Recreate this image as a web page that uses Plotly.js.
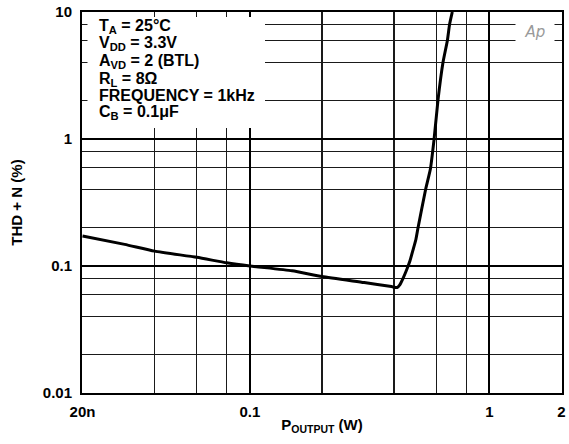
<!DOCTYPE html>
<html>
<head>
<meta charset="utf-8">
<script src="https://cdn.plot.ly/plotly-3.0.1.min.js"></script>
<style>
  html, body { margin: 0; padding: 0; background: #fff; }
  #chart { width: 569px; height: 444px; }
</style>
</head>
<body>
<div id="chart"></div>
<script>
// Output power (W) and THD+N (%) along the measured curve
const outputPower = [0.02, 0.03, 0.04, 0.06, 0.08, 0.1, 0.15, 0.2, 0.3, 0.39, 0.412, 0.4225,
                     0.436, 0.451, 0.466, 0.48, 0.493, 0.504, 0.541, 0.567, 0.587, 0.61,
                     0.64, 0.668, 0.682, 0.70];
const thdN = [0.172, 0.148, 0.131, 0.117, 0.106, 0.100, 0.0916, 0.0826, 0.0741, 0.0689, 0.0677, 0.071,
              0.080, 0.093, 0.110, 0.134, 0.161, 0.202, 0.397, 0.58, 0.98, 2.02,
              4.0, 6.0, 8.0, 10.0];

// Axis ticks: labelled decades and unlabelled grid positions
const xTickVals = [0.02, 0.1, 1, 2];
const xTickText = ['20n', '0.1', '1', '2'];
const xGridVals = [0.04, 0.06, 0.08, 0.2, 0.4, 0.6, 0.8];
const yTickVals = [0.01, 0.1, 1, 10];
const yTickText = ['0.01', '0.1', '1', '10'];
const yGridVals = [0.02, 0.04, 0.06, 0.08, 0.2, 0.4, 0.6, 0.8, 2, 4, 6, 8];

// Test conditions listed in the upper-left corner
const conditions = [
  'T<sub>A</sub> = 25°C',
  'V<sub>DD</sub> = 3.3V',
  'A<sub>VD</sub> = 2 (BTL)',
  'R<sub>L</sub> = 8Ω',
  'FREQUENCY = 1kHz',
  'C<sub>B</sub> = 0.1μF'
];

const FONT = 'Liberation Sans, Arial, Helvetica, sans-serif';
const M = { l: 82, r: 7, t: 12, b: 51 };
const W = 569, H = 444;
const plotW = W - M.l - M.r, plotH = H - M.t - M.b;
const px = (x) => (x - M.l) / plotW;          // pixel column -> domain x
const py = (y) => (H - M.b - y) / plotH;      // pixel row -> domain y
const condRows = [26.5, 43.5, 61.5, 79, 95.5, 112];

const gridMinor = { color: '#1a1a1a', width: 1.2 };
const gridMajor = { color: '#000', width: 2.2 };

function axisCommon(tickvals, ticktext, minorVals) {
  return {
    type: 'log',
    tickmode: 'array',
    tickvals: tickvals,
    ticktext: ticktext,
    ticks: '',
    showgrid: true,
    gridcolor: gridMajor.color,
    gridwidth: gridMajor.width,
    showline: true,
    linecolor: '#000',
    linewidth: 2,
    mirror: true,
    zeroline: false,
    fixedrange: true,
    tickfont: { family: FONT, size: 15, color: '#000', weight: 'bold' },
    minor: {
      tickmode: 'array',
      tickvals: minorVals,
      ticks: '',
      showgrid: true,
      gridcolor: gridMinor.color,
      gridwidth: gridMinor.width
    }
  };
}

const xaxis = Object.assign(axisCommon(xTickVals, xTickText, xGridVals), {
  range: [Math.log10(0.0199), Math.log10(2.01)],
  ticklabelstandoff: 4,
  title: {
    text: 'P<sub>OUTPUT</sub> (W)',
    font: { family: FONT, size: 15, color: '#000', weight: 'bold' },
    standoff: 0
  }
});

const yaxis = Object.assign(axisCommon(yTickVals, yTickText, yGridVals), {
  range: [-2, 1],
  ticklabelstandoff: 5,
  title: {
    text: 'THD + N (%)',
    font: { family: FONT, size: 15, color: '#000', weight: 'bold' },
    standoff: 17
  }
});

const annotations = conditions.map((t, i) => ({
  xref: 'x domain', yref: 'y domain',
  x: px(97), y: py(condRows[i]),
  xanchor: 'left', yanchor: 'middle',
  text: '<b>' + t + '</b>',
  showarrow: false,
  font: { family: FONT, size: 16, color: '#000' }
}));

// Small logo mark in the upper-right corner
annotations.push({
  xref: 'x domain', yref: 'y domain',
  x: px(535), y: py(32),
  xanchor: 'center', yanchor: 'middle',
  text: 'Ap',
  showarrow: false,
  width: 36,
  bgcolor: '#fff',
  font: { family: 'DejaVu Sans, sans-serif', size: 15, color: '#9a9a9a', style: 'italic' }
});

// White panel behind the test conditions; it stops a few pixels short of the
// frame so the grid lines leave short tick stubs along the left and top edges.
const shapes = [{
  type: 'rect', layer: 'above',
  xref: 'x domain', yref: 'y domain',
  x0: px(87.5), x1: px(265),
  y0: py(128), y1: py(17),
  fillcolor: '#fff', line: { width: 0 }
}];

const trace = {
  type: 'scatter',
  mode: 'lines',
  x: outputPower,
  y: thdN,
  line: { color: '#000', width: 3, shape: 'spline', smoothing: 0.5 },
  hoverinfo: 'x+y'
};

Plotly.newPlot('chart', [trace], {
  width: W,
  height: H,
  margin: M,
  paper_bgcolor: '#fff',
  plot_bgcolor: '#fff',
  showlegend: false,
  xaxis: xaxis,
  yaxis: yaxis,
  annotations: annotations,
  shapes: shapes,
  font: { family: FONT, color: '#000' }
}, { displayModeBar: false, staticPlot: true });
</script>
</body>
</html>
